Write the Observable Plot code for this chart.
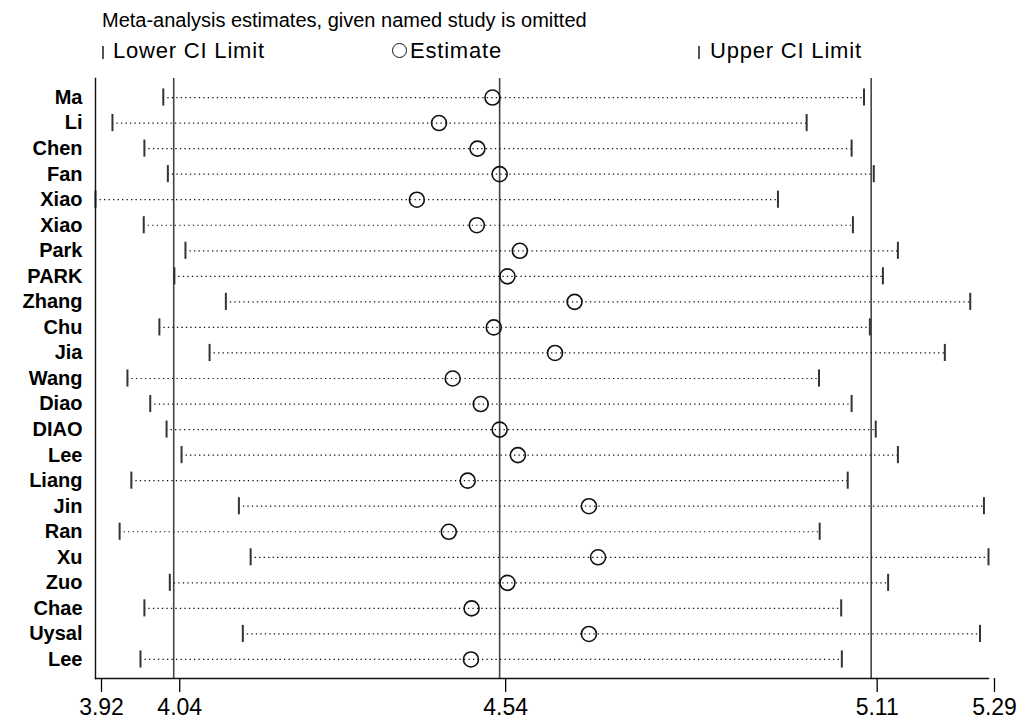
<!DOCTYPE html>
<html>
<head>
<meta charset="utf-8">
<script src="https://cdn.jsdelivr.net/npm/d3@7"></script>
<script src="https://cdn.jsdelivr.net/npm/@observablehq/plot@0.6"></script>
<style>
  html, body { margin: 0; padding: 0; background: #fff; }
  #wrap { position: relative; width: 1035px; height: 718px; font-family: "Liberation Sans", Arial, sans-serif; color: #000; }
  #chart { position: absolute; left: 0; top: 0; }
  .ov { position: absolute; white-space: nowrap; line-height: 1; }
  .bar { position: absolute; width: 1.5px; height: 13px; background: #555; }
  .circ { position: absolute; width: 13px; height: 13px; border: 1.5px solid #111; border-radius: 50%; }
</style>
</head>
<body>
<div id="wrap">
  <div id="chart"></div>
  <div class="ov" id="title" style="left:102px; top:10px; font-size:20px;"></div>
  <div class="bar" style="left:102px; top:46px;"></div>
  <div class="ov" id="legLower" style="left:113px; top:40px; font-size:22px; letter-spacing:0.8px;"></div>
  <div class="circ" style="left:392px; top:43px;"></div>
  <div class="ov" id="legEst" style="left:410px; top:40px; font-size:22px; letter-spacing:0.8px;"></div>
  <div class="bar" style="left:698px; top:46px;"></div>
  <div class="ov" id="legUpper" style="left:710px; top:40px; font-size:22px; letter-spacing:0.8px;"></div>
</div>
<script>
const titleText = "Meta-analysis estimates, given named study is omitted";
const legendLabels = ["Lower CI Limit", "Estimate", "Upper CI Limit"];

const studies = ["Ma","Li","Chen","Fan","Xiao","Xiao","Park","PARK","Zhang","Chu","Jia","Wang","Diao","DIAO","Lee","Liang","Jin","Ran","Xu","Zuo","Chae","Uysal","Lee"];
const lower    = [4.024,3.946,3.995,4.031,3.920,3.994,4.058,4.041,4.120,4.018,4.095,3.969,4.004,4.029,4.052,3.975,4.140,3.957,4.158,4.034,3.995,4.146,3.989];
const estimate = [4.529,4.447,4.506,4.540,4.413,4.505,4.571,4.552,4.655,4.531,4.625,4.468,4.511,4.540,4.568,4.491,4.677,4.462,4.691,4.552,4.497,4.677,4.496];
const upper    = [5.099,5.011,5.080,5.114,4.967,5.082,5.151,5.128,5.262,5.108,5.223,5.030,5.080,5.117,5.151,5.074,5.283,5.031,5.290,5.136,5.064,5.277,5.065];
const tickValues = [3.92, 4.04, 4.54, 5.11, 5.29];
const refLines = [4.04, 4.54, 5.11];

document.getElementById("title").textContent = titleText;
document.getElementById("legLower").textContent = legendLabels[0];
document.getElementById("legEst").textContent = legendLabels[1];
document.getElementById("legUpper").textContent = legendLabels[2];

const data = studies.map((s, i) => ({id: i, study: s, lower: lower[i], est: estimate[i], upper: upper[i]}));

const chart = Plot.plot({
  width: 1035,
  height: 718,
  marginLeft: 95,
  marginRight: 47,
  marginTop: 78,
  marginBottom: 40,
  style: {fontFamily: '"Liberation Sans", Arial, sans-serif', background: "transparent", overflow: "visible"},
  x: {domain: [tickValues[0], tickValues[tickValues.length - 1]]},
  y: {type: "band", domain: d3.range(studies.length), paddingInner: 0.33, paddingOuter: 0.41, round: false},
  marks: [
    Plot.ruleX(refLines, {x: d => d, stroke: "#444", strokeWidth: 1.6}),
    Plot.ruleY(data, {y: "id", x1: "lower", x2: "upper", stroke: "#111", strokeWidth: 1.2, strokeDasharray: "1.3,3.2"}),
    Plot.tickX(data, {x: "lower", y: "id", stroke: "#333", strokeWidth: 2}),
    Plot.tickX(data, {x: "upper", y: "id", stroke: "#333", strokeWidth: 2}),
    Plot.dot(data, {x: "est", y: "id", r: 7.5, stroke: "#111", strokeWidth: 1.6, fill: "none"}),
    Plot.frame({anchor: "left", stroke: "#111", strokeWidth: 1.4}),
    Plot.frame({anchor: "bottom", stroke: "#111", strokeWidth: 1.4}),
    Plot.axisX(tickValues, {tickSize: 14, tickPadding: 6, dx: 6, fontSize: 23, tickFormat: d => d.toFixed(2), label: null, strokeWidth: 1.3}),
    Plot.axisY({tickSize: 0, tickPadding: 13, fontSize: 20, fontWeight: "bold", tickFormat: i => studies[i], label: null})
  ]
});
document.getElementById("chart").appendChild(chart);
</script>
</body>
</html>
